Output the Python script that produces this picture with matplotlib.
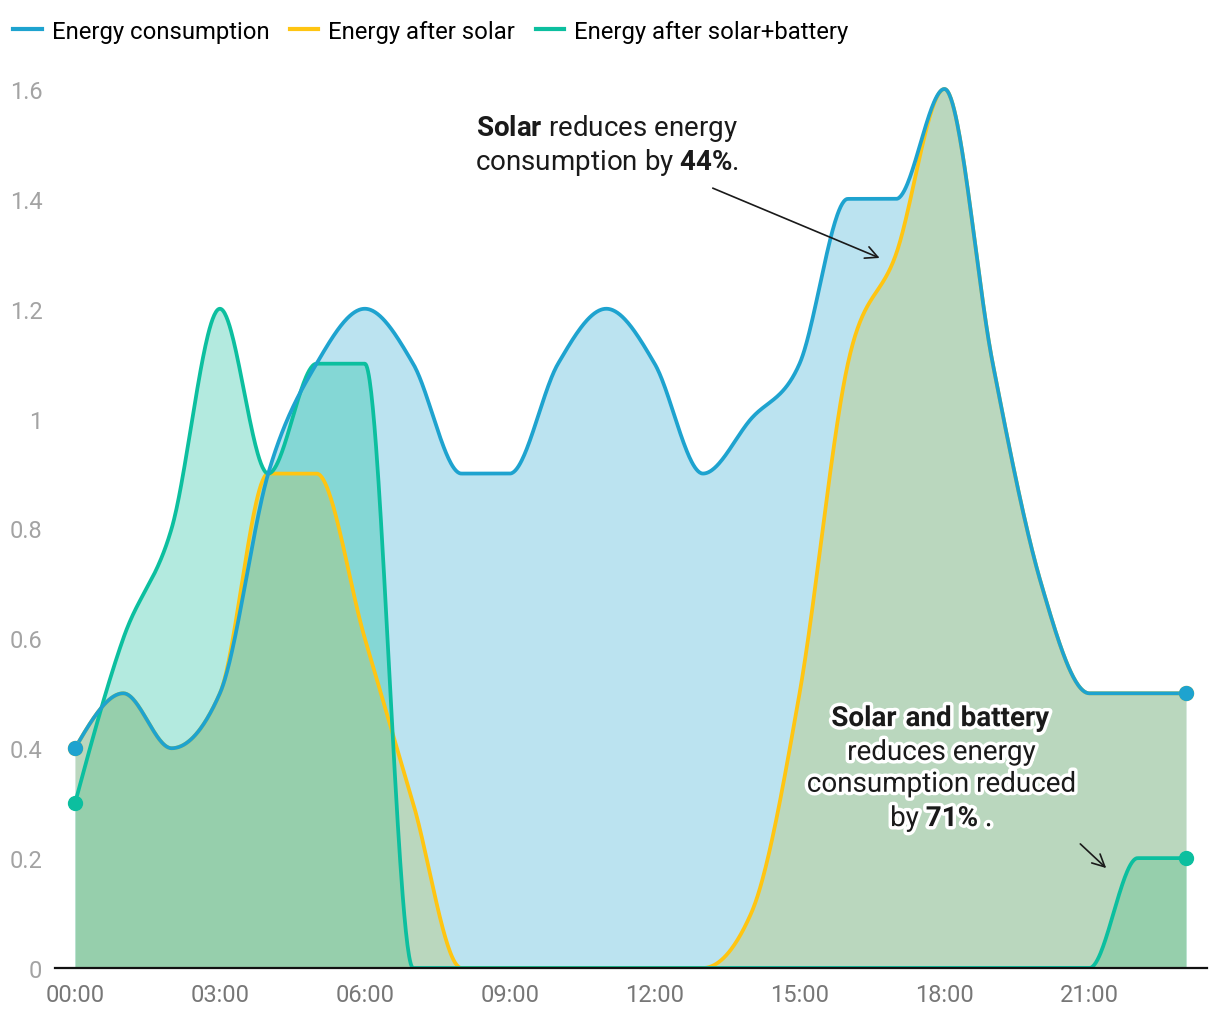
import numpy as np
import matplotlib
matplotlib.use("Agg")
import matplotlib.pyplot as plt
import matplotlib.patheffects as pe

plt.rcParams['font.family'] = ['Roboto', 'DejaVu Sans']
plt.rcParams['mathtext.fontset'] = 'custom'
plt.rcParams['mathtext.rm'] = 'Roboto'
plt.rcParams['mathtext.bf'] = 'Roboto:bold'

# hourly values
hours = list(range(24))
consumption = [0.4, 0.5, 0.4, 0.5, 0.9, 1.1, 1.2, 1.1, 0.9, 0.9, 1.1, 1.2,
               1.1, 0.9, 1.0, 1.1, 1.4, 1.4, 1.6, 1.1, 0.7, 0.5, 0.5, 0.5]
after_solar = [0.4, 0.5, 0.4, 0.5, 0.9, 0.9, 0.6, 0.3, 0, 0, 0, 0,
               0, 0, 0.1, 0.5, 1.1, 1.3, 1.6, 1.1, 0.7, 0.5, 0.5, 0.5]
after_battery = [0.3, 0.6, 0.8, 1.2, 0.9, 1.1, 1.1, 0, 0, 0, 0, 0,
                 0, 0, 0, 0, 0, 0, 0, 0, 0, 0, 0.2, 0.2]
tick_hours = [0, 3, 6, 9, 12, 15, 18, 21]
tick_labels = ['00:00', '03:00', '06:00', '09:00', '12:00', '15:00', '18:00', '21:00']
y_ticks = [0, 0.2, 0.4, 0.6, 0.8, 1.0, 1.2, 1.4, 1.6]

BLUE = '#1ea3cf'
YELLOW = '#ffc512'
GREEN = '#0cbf9f'
TEXT = '#1a1a1a'


def monotone(xs, ys, n=60):
    """monotone cubic interpolation (same as d3 curveMonotoneX)"""
    x = np.asarray(xs, float)
    y = np.asarray(ys, float)
    h = np.diff(x)
    s = np.diff(y) / h
    t = np.zeros_like(y)
    for i in range(1, len(y) - 1):
        s0, s1 = s[i - 1], s[i]
        p = (s0 * h[i] + s1 * h[i - 1]) / (h[i - 1] + h[i])
        t[i] = (np.sign(s0) + np.sign(s1)) * min(abs(s0), abs(s1), 0.5 * abs(p))
    t[0] = (3 * s[0] - t[1]) / 2
    t[-1] = (3 * s[-1] - t[-2]) / 2
    xo, yo = [], []
    for i in range(len(h)):
        u = np.linspace(0, 1, n, endpoint=(i == len(h) - 1))
        h00 = 2 * u**3 - 3 * u**2 + 1
        h10 = u**3 - 2 * u**2 + u
        h01 = -2 * u**3 + 3 * u**2
        h11 = u**3 - u**2
        xo.append(x[i] + u * h[i])
        yo.append(h00 * y[i] + h10 * h[i] * t[i] + h01 * y[i + 1] + h11 * h[i] * t[i + 1])
    return np.concatenate(xo), np.concatenate(yo)


fig = plt.figure(figsize=(12.2, 10.2), dpi=100)
ax = fig.add_axes([55 / 1220, 51 / 1020, 1152 / 1220, 899 / 1020])

xb, yb = monotone(hours, consumption)
xs, ys = monotone(hours, after_solar)
xg, yg = monotone(hours, after_battery)

ax.fill_between(xb, 0, yb, color=BLUE, alpha=0.3, lw=0, zorder=1)
ax.fill_between(xg, 0, yg, color='#05bc98', alpha=0.3, lw=0, zorder=2)
ax.fill_between(xs, 0, ys, color='#b9c161', alpha=0.35, lw=0, zorder=3)

ax.plot(xs, ys, color=YELLOW, lw=2.7, zorder=4, solid_capstyle='round')
ax.plot(xg, yg, color=GREEN, lw=2.7, zorder=5, solid_capstyle='round')
ax.plot(xb, yb, color=BLUE, lw=2.7, zorder=6, solid_capstyle='round')

ends = [0, 23]
ax.plot(ends, [after_solar[0], after_solar[-1]], 'o', color=YELLOW, ms=10, zorder=7)
ax.plot(ends, [after_battery[0], after_battery[-1]], 'o', color=GREEN, ms=10, zorder=8)
ax.plot(ends, [consumption[0], consumption[-1]], 'o', color=BLUE, ms=10, zorder=9)

ax.set_xlim(-0.414, 23.435)
ax.set_ylim(0, 1.6 + 20 / 549.4)

for sp in ['top', 'right', 'left']:
    ax.spines[sp].set_visible(False)
ax.spines['bottom'].set_linewidth(1.6)
ax.spines['bottom'].set_color('#111111')
ax.spines['bottom'].set_zorder(10)

ax.set_xticks(tick_hours)
ax.set_xticklabels(tick_labels)
ax.set_yticks(y_ticks)
ax.set_yticklabels([f'{v:g}' for v in y_ticks])
ax.tick_params(axis='x', length=0, pad=11, labelsize=17, labelcolor='#777777')
ax.tick_params(axis='y', length=0, pad=9, labelsize=17, labelcolor='#a3a3a3')

# annotations
ax.text(11.01, 1.499, r'$\mathbf{Solar}$ reduces energy' + '\n' + r'consumption by $\mathbf{44\%}$.',
        ha='center', va='center', multialignment='center', fontsize=20,
        color=TEXT, linespacing=1.12, zorder=11)
ax.annotate('', xy=(16.71, 1.2905), xytext=(13.15, 1.4215),
            arrowprops=dict(arrowstyle='->', color=TEXT, lw=1.2,
                            mutation_scale=22), zorder=11)

ax.text(17.93, 0.363,
        r'$\mathbf{Solar\ and\ battery}$' + '\nreduces energy\nconsumption reduced\n' + r'by $\mathbf{71\%}$ .',
        ha='center', va='center', multialignment='center', fontsize=20,
        color=TEXT, linespacing=1.23, zorder=11,
        path_effects=[pe.withStroke(linewidth=5, foreground='white')])
ax.annotate('', xy=(21.39, 0.1784), xytext=(20.77, 0.2293),
            arrowprops=dict(arrowstyle='->', color=TEXT, lw=1.2,
                            mutation_scale=22), zorder=11)

handles = [plt.Line2D([], [], color=c, lw=3) for c in (BLUE, YELLOW, GREEN)]
fig.legend(handles, ['Energy consumption', 'Energy after solar', 'Energy after solar+battery'],
           loc='center left', bbox_to_anchor=(13 / 1220, 1 - 32 / 1020), ncol=3, frameon=False,
           fontsize=17.2, handlelength=1.2, handletextpad=0.42, columnspacing=0.85,
           borderaxespad=0, borderpad=0)

fig.savefig('out.png', dpi=100, facecolor='white')
